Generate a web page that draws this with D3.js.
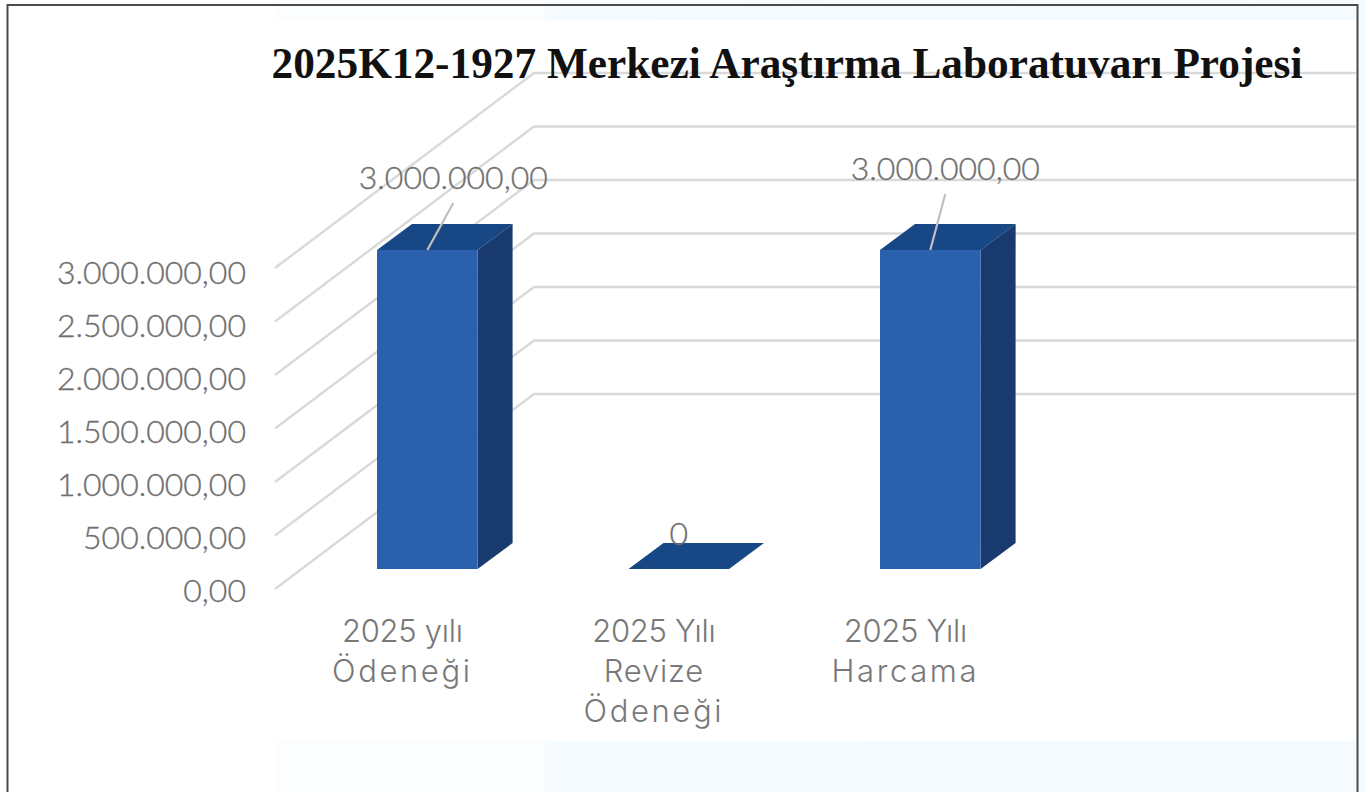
<!DOCTYPE html>
<html>
<head>
<meta charset="utf-8">
<script src="https://cdn.jsdelivr.net/npm/d3@7"></script>
<style>
    html, body { margin: 0; padding: 0; background: #fff; }
    svg { display: block; }
    .lbl { font-family: "Lato", sans-serif; font-weight: 300; fill: #707070; stroke: #707070; stroke-width: 0.35px; }
    .cat { font-family: "Inter", sans-serif; font-weight: 300; fill: #787878; }
</style>
</head>
<body>
<svg id="chart" width="1365" height="792"></svg>
<script>
const titleText = "2025K12-1927 Merkezi Araştırma Laboratuvarı Projesi";
const categories = ["2025 yılı Ödeneği", "2025 Yılı Revize Ödeneği", "2025 Yılı Harcama"];
const categoryLines = [["2025 yılı", "Ödeneği"], ["2025 Yılı", "Revize", "Ödeneği"], ["2025 Yılı", "Harcama"]];
const values = [3000000, 0, 3000000];
const dataLabels = ["3.000.000,00", "0", "3.000.000,00"];
const tickValues = [0, 500000, 1000000, 1500000, 2000000, 2500000, 3000000];

var svg = d3.select("#chart"),
    width = +svg.attr("width"),
    height = +svg.attr("height");

var locale = d3.formatLocale({decimal: ",", thousands: ".", grouping: [3], currency: ["", ""]});
var fmt = locale.format(",.2f");

// page background, faint blue bands around the white chart
var defs = svg.append("defs");
var grad = defs.append("linearGradient").attr("id", "band");
grad.append("stop").attr("offset", "0").attr("stop-color", "#fbfdff");
grad.append("stop").attr("offset", "0.245").attr("stop-color", "#fbfdff");
grad.append("stop").attr("offset", "0.25").attr("stop-color", "#f5fbfe");
grad.append("stop").attr("offset", "1").attr("stop-color", "#f4fafe");

svg.append("rect").attr("x", 275).attr("y", 0).attr("width", width - 275).attr("height", 20).attr("fill", "url(#band)");
svg.append("rect").attr("x", 275).attr("y", 741).attr("width", width - 275).attr("height", 51).attr("fill", "url(#band)");
svg.append("rect").attr("x", 1357).attr("y", 0).attr("width", 8).attr("height", height).attr("fill", "#f4fafe");

// 3d floor plane: wall scale is the back, axis scale is the front-left edge
var wallY = d3.scaleLinear().domain([0, 3000000]).range([394, 73]);
var frontY = d3.scaleLinear().domain([0, 3000000]).range([589, 268]);
var labelY = d3.scaleLinear().domain([0, 3000000]).range([589.5, 272]);
var barY = d3.scaleLinear().domain([0, 3000000]).range([569, 250]);
var x = d3.scaleBand().domain(categories).range([377, 1131.5])
    .paddingInner(0.6).paddingOuter(0.3).align(0);

const depthX = 35, depthY = -26;

var grid = svg.append("g").attr("class", "grid");
grid.selectAll("polyline")
    .data(tickValues)
    .enter().append("polyline")
    .attr("points", d => [[275, frontY(d)], [534, wallY(d)], [1356, wallY(d)]].join(" "))
    .attr("fill", "none")
    .attr("stroke", "#d9d9d9")
    .attr("stroke-width", 2.4);

// bars
var bars = svg.append("g").selectAll("g")
    .data(values.map((v, i) => ({cat: categories[i], value: v, label: dataLabels[i], lines: categoryLines[i]})))
    .enter().append("g");

bars.append("path")
    .attr("fill", "#174885")
    .attr("d", d => {
        let x0 = x(d.cat), x1 = x0 + x.bandwidth(), y0 = barY(d.value);
        return `M${x0},${y0}L${x0 + depthX},${y0 + depthY}L${x1 + depthX},${y0 + depthY}L${x1},${y0}Z`;
    });
bars.filter(d => d.value > 0).append("path")
    .attr("fill", "#183a6e")
    .attr("d", d => {
        let x1 = x(d.cat) + x.bandwidth(), y0 = barY(d.value), yb = barY(0);
        return `M${x1},${y0}L${x1 + depthX},${y0 + depthY}L${x1 + depthX},${yb + depthY}L${x1},${yb}Z`;
    });
bars.filter(d => d.value > 0).append("rect")
    .attr("x", d => x(d.cat))
    .attr("y", d => barY(d.value))
    .attr("width", x.bandwidth())
    .attr("height", d => barY(0) - barY(d.value))
    .attr("fill", "#2a60ad");

// y axis, only the labels are visible
var axis = svg.append("g")
    .attr("transform", "translate(246,0)")
    .call(d3.axisLeft(labelY).tickValues(tickValues).tickSize(0).tickPadding(0).tickFormat(fmt));
axis.select(".domain").remove();
axis.selectAll("text")
    .attr("class", "lbl")
    .attr("font-size", 32)
    .attr("dy", "0.36em");

// leader lines + data labels
const labelOffset = [[26, -61], [0, -24], [15, -70]];
bars.filter(d => d.value > 0).append("line")
    .attr("x1", d => x(d.cat) + x.bandwidth() / 2)
    .attr("y1", d => barY(d.value))
    .attr("x2", (d, i) => x(d.cat) + x.bandwidth() / 2 + (i == 0 ? 26 : 15))
    .attr("y2", (d, i) => barY(d.value) + (i == 0 ? -47 : -56))
    .attr("stroke", "#bfbfbf")
    .attr("stroke-width", 2.2);

bars.append("text")
    .attr("class", "lbl")
    .attr("font-size", 32)
    .attr("text-anchor", "middle")
    .attr("x", (d, i) => x(d.cat) + x.bandwidth() / 2 + labelOffset[i][0])
    .attr("y", (d, i) => barY(d.value) + labelOffset[i][1])
    .text(d => d.label);

// category labels, words are spaced out a bit since the font is narrower than the original
const wordSpacing = {"Ödeneği": 2.6, "Harcama": 2.6, "Revize": 0.8};
var catText = bars.append("text")
    .attr("class", "cat")
    .attr("font-size", 31)
    .attr("text-anchor", "middle");
catText.selectAll("tspan")
    .data(d => d.lines.map(l => ({line: l, cat: d.cat})))
    .enter().append("tspan")
    .attr("x", d => x(d.cat) + x.bandwidth() / 2 - 25)
    .attr("y", (d, i) => 642 + i * 40)
    .attr("letter-spacing", d => wordSpacing[d.line] || -0.3)
    .text(d => d.line);

// title
svg.append("text")
    .attr("x", 787)
    .attr("y", 78)
    .attr("text-anchor", "middle")
    .attr("font-family", "'Liberation Serif', serif")
    .attr("font-weight", "bold")
    .attr("font-size", 43.3)
    .attr("fill", "#111")
    .text(titleText);

// outer frame, open at the bottom
svg.append("path")
    .attr("d", "M7.5,792V5H1357.5V792")
    .attr("fill", "none")
    .attr("stroke", "#4a4a4a")
    .attr("stroke-width", 2);
</script>
</body>
</html>
